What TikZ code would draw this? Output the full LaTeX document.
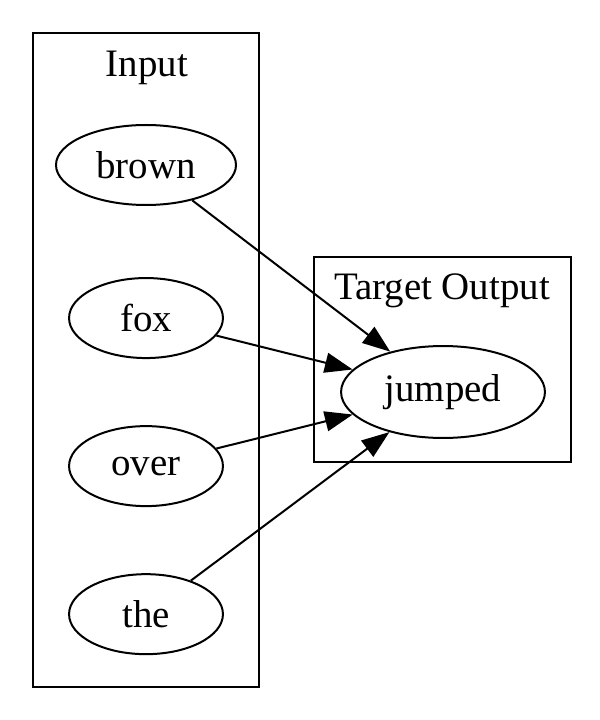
\documentclass[tikz,border=0pt]{standalone}
\usepackage{fontspec}
\setmainfont{Liberation Serif}
\usetikzlibrary{arrows.meta,positioning,shapes.geometric}

\begin{document}
\begin{tikzpicture}[x=0.36pt,y=-0.36pt,on grid,line width=0.72pt,
    word/.style={draw,ellipse,minimum width=55.4pt,minimum height=28.8pt,
      inner sep=0pt,font=\fontsize{14pt}{16pt}\selectfont},
    title/.style={font=\fontsize{14pt}{16pt}\selectfont},
    link/.style={-{Triangle[length=10pt,width=7.2pt]}}]
   \useasboundingbox (0,0) rectangle (600,720);
   % clusters
   \draw (33,33) rectangle (259,687);
   \node[title] (l_in) at (147,68) {Input};
   \draw (314,257) rectangle (571,462);
   \node[title] (l_out) at (442,291) {Target Output};
   % words
   \node[word,minimum width=64.8pt] (brown) at (146,165) {brown};
   \node[word] (fox)  [below=55.1pt of brown] {fox};
   \node[word] (over) [below=53.3pt of fox]   {over};
   \node[word] (the)  [below=53.3pt of over]  {the};
   \node[word,minimum width=73.4pt,minimum height=33.1pt] (jumped) at (443,392) {jumped};
   \path[link]
    (brown) edge (jumped)
    (fox)   edge (jumped)
    (over)  edge (jumped)
    (the)   edge (jumped);
\end{tikzpicture}
\end{document}
